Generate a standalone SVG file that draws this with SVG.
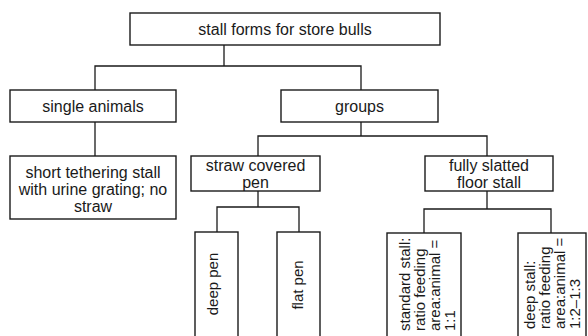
<svg xmlns="http://www.w3.org/2000/svg" width="588" height="336" viewBox="0 0 588 336">
<style>
.box{fill:#fff;stroke:#1a1a1a;stroke-width:1.4}
.conn{fill:none;stroke:#1a1a1a;stroke-width:1.3}
text{font-family:"Liberation Sans",Arial,sans-serif;font-size:16px;fill:#1a1a1a}
.c{text-anchor:middle}
.r{font-size:15px}
</style>
<rect width="588" height="336" fill="#fff"/>
<g id="connectors" class="conn">
<path d="M224 45V66M95 90V66H361V90"/>
<path d="M95 122V156"/>
<path d="M361 122V136M258 156V136H487V156"/>
<path d="M258 191V207M217 232V207H299V232"/>
<path d="M487 191V209M424 233V209H551V233"/>
</g>
<g id="root"><rect class="box" x="130" y="13" width="310" height="32"/><text class="c" x="285" y="35">stall forms for store bulls</text></g>
<g id="single"><rect class="box" x="10" y="90" width="166" height="32"/><text class="c" x="93" y="112">single animals</text></g>
<g id="groups"><rect class="box" x="281" y="90" width="157" height="32"/><text class="c" x="359.5" y="112">groups</text></g>
<g id="tethering"><rect class="box" x="10" y="156" width="166" height="63"/><text class="c" x="93" y="178">short tethering stall</text><text class="c" x="93" y="195">with urine grating; no</text><text class="c" x="93" y="212">straw</text></g>
<g id="straw"><rect class="box" x="191" y="156" width="129" height="35"/><text class="c" x="255.5" y="170.5">straw covered</text><text class="c" x="255.5" y="187.5">pen</text></g>
<g id="slatted"><rect class="box" x="425" y="156" width="128" height="35"/><text class="c" x="489" y="170.5">fully slatted</text><text class="c" x="489" y="187.5">floor stall</text></g>
<g id="deeppen"><rect class="box" x="195" y="232" width="43" height="120"/><text class="c r" transform="translate(218,284) rotate(-90)">deep pen</text></g>
<g id="flatpen"><rect class="box" x="277" y="232" width="43" height="120"/><text class="c r" transform="translate(303,285) rotate(-90)">flat pen</text></g>
<g id="standard"><rect class="box" x="387" y="233" width="74" height="120"/>
<text class="r" transform="translate(410,331) rotate(-90)">standard stall:</text>
<text class="r" transform="translate(425,331) rotate(-90)">ratio feeding</text>
<text class="r" transform="translate(440,331) rotate(-90)">area:animal =</text>
<text class="r" transform="translate(455,331) rotate(-90)">1:1</text></g>
<g id="deepstall"><rect class="box" x="518" y="233" width="68" height="120"/>
<text class="r" transform="translate(535,329) rotate(-90)">deep stall:</text>
<text class="r" transform="translate(550,329) rotate(-90)">ratio feeding</text>
<text class="r" transform="translate(565,329) rotate(-90)">area:animal =</text>
<text class="r" transform="translate(580,329) rotate(-90)">1:2–1:3</text></g>
</svg>
